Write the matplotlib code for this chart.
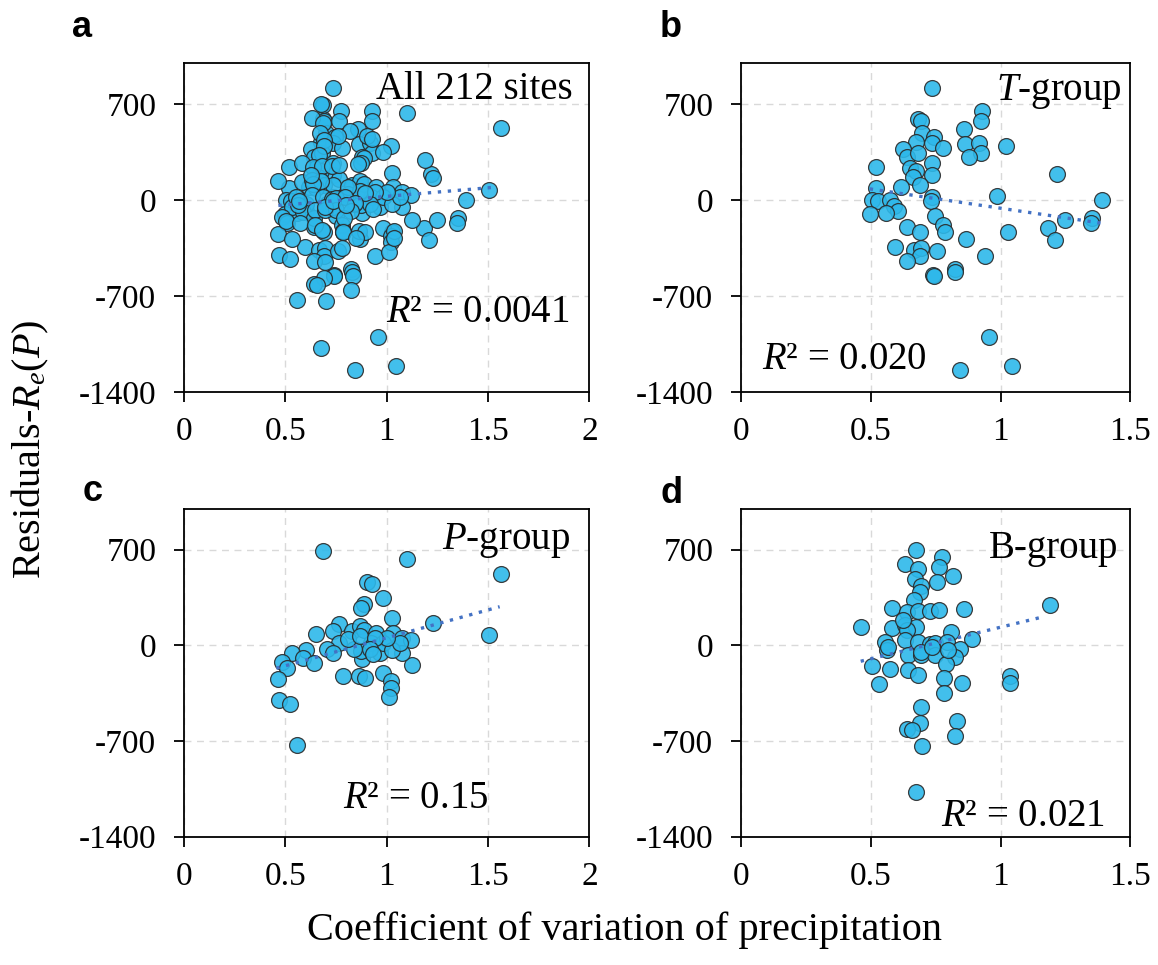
import numpy as np
import matplotlib.pyplot as plt

plt.rcParams['font.family'] = ['Liberation Serif', 'DejaVu Serif']
plt.rcParams['mathtext.fontset'] = 'custom'
plt.rcParams['mathtext.rm'] = 'Liberation Serif'
plt.rcParams['mathtext.it'] = 'Liberation Serif:italic'

# T-group (panel b)
t_cv = [0.737, 0.929, 0.926, 0.683, 0.692, 0.698, 0.744, 0.676, 0.734, 0.779,
        0.860, 0.862, 0.917, 0.926, 0.878, 1.023, 0.625, 0.641, 0.680, 0.734,
        0.734, 0.650, 0.675, 0.663, 0.689, 0.519, 0.519, 0.618, 1.216, 0.988,
        1.392, 0.734, 0.731, 0.503, 0.528, 0.573, 0.590, 0.603, 0.496, 0.558,
        0.747, 0.779, 0.785, 0.639, 0.689, 0.866, 1.027, 1.184, 1.210, 1.248,
        1.351, 1.349, 0.595, 0.667, 0.695, 0.691, 0.640, 0.757, 0.940, 0.740,
        0.742, 0.824, 0.826, 0.955, 0.843, 1.046]
t_res = [814, 649, 578, 590, 576, 491, 455, 425, 418, 377,
         515, 406, 413, 340, 316, 389, 369, 316, 340, 267,
         182, 231, 207, 170, 109, 243, 85, 92, 190, 29,
         0, 24, -12, 0, -12, 0, -44, -78, -102, -97,
         -117, -182, -231, -199, -238, -284, -231, -207, -292, -146,
         -134, -170, -345, -369, -352, -408, -445, -372, -406, -547,
         -554, -506, -523, -1004, -1240, -1210]

# P-group (panel c)
p_cv = [0.686, 1.099, 1.565, 1.502, 1.229, 0.904, 0.929, 0.979, 0.888, 0.874,
        1.024, 0.766, 0.650, 0.736, 0.829, 0.866, 0.888, 0.949, 1.032, 1.077,
        1.121, 0.763, 0.704, 0.733, 0.600, 0.533, 0.588, 0.641, 0.483, 0.508,
        0.463, 0.467, 0.522, 0.558, 0.783, 0.861, 0.894, 0.983, 1.019, 1.021,
        1.012, 1.124, 1.074, 0.966, 0.880, 0.874, 0.840, 0.924, 0.983, 1.024,
        1.066, 0.808, 0.866, 0.999, 0.941, 0.916, 0.933]
p_res = [693, 632, 523, 75, 160, 464, 445, 348, 304, 270,
         197, 153, 85, 105, 105, 141, 112, 92, 92, 56,
         36, 15, -29, -53, -34, -53, -90, -131, -126, -168,
         -248, -399, -433, -729, -228, -228, -236, -204, -265, -309,
         -382, -146, -53, -53, -97, -41, -29, 19, 19, -34,
         19, 44, 68, 56, 56, -29, -66]

# B-group (panel d)
b_cv = [0.676, 0.775, 0.762, 0.631, 0.683, 0.670, 0.817, 0.757, 0.692, 0.690,
        0.666, 0.580, 0.638, 0.680, 0.728, 0.762, 0.860, 1.190, 0.461, 0.580,
        0.631, 0.676, 0.638, 0.811, 0.891, 0.554, 0.564, 0.631, 0.683, 0.728,
        0.747, 0.792, 0.843, 0.644, 0.695, 0.749, 0.824, 0.788, 0.503, 0.573,
        0.644, 0.680, 0.783, 0.531, 0.850, 0.781, 1.036, 1.037, 0.695, 0.689,
        0.641, 0.657, 0.834, 0.824, 0.699, 0.676, 0.625, 0.567, 0.695, 0.734,
        0.798]
b_res = [697, 649, 576, 595, 559, 486, 505, 462, 437, 389,
         328, 272, 243, 250, 250, 255, 262, 292, 134, 129,
         146, 134, 114, 97, 49, 24, -36, 36, 24, 7,
         17, 24, -24, -73, -73, -73, -85, -134, -153, -170,
         -182, -219, -236, -284, -275, -352, -226, -275, -450, -571,
         -615, -620, -554, -661, -736, -1077, 182, -12, -49, -12,
         -36]

# linear trend lines as shown (start/end x and y)
trend_a = ([0.465, 1.543], [-41, 93])
trend_b = ([0.496, 1.389], [80, -170])
trend_c = ([0.455, 1.557], [-168, 282])
trend_d = ([0.461, 1.171], [-117, 211])

panels = [
    ('a', t_cv + p_cv + b_cv, t_res + p_res + b_res, trend_a, 'All 212 sites', '$R$² = 0.0041', 2),
    ('b', t_cv, t_res, trend_b, '$T$-group', '$R$² = 0.020', 1.5),
    ('c', p_cv, p_res, trend_c, '$P$-group', '$R$² = 0.15', 2),
    ('d', b_cv, b_res, trend_d, 'B-group', '$R$² = 0.021', 1.5),
]

# label / R2 positions in axes fraction
name_pos = [(0.958, 0.918), (0.979, 0.912), (0.953, 0.902), (0.969, 0.878)]
r2_pos = [(0.95, 0.24, 'right'), (0.054, 0.097, 'left'), (0.571, 0.116, 'center'), (0.936, 0.06, 'right')]
rects = [[0.159, 0.594, 0.350, 0.341], [0.640, 0.594, 0.336, 0.341],
         [0.159, 0.133, 0.350, 0.340], [0.640, 0.133, 0.336, 0.340]]
letter_xy = [(72, 37), (660, 37), (83, 501), (660, 503)]

fig = plt.figure(figsize=(11.58, 9.65), dpi=100)

for i, (lab, x, y, tr, name, r2, xmax) in enumerate(panels):
    ax = fig.add_axes(rects[i])
    ax.scatter(x, y, s=130, facecolor='#2DB8EA', edgecolor='#2a2a2a',
               linewidth=0.9, alpha=0.9, zorder=3)
    ax.plot(tr[0], tr[1], linestyle=(0, (1, 2)), color='#4472C4', linewidth=2.4, zorder=4)

    ax.set_xlim(0, xmax)
    ax.set_ylim(-1400, 1000)
    xt = np.arange(0, xmax + 0.01, 0.5)
    ax.set_xticks(xt)
    ax.set_xticklabels(['%g' % v for v in xt])
    ax.set_yticks([-1400, -700, 0, 700])
    ax.set_yticklabels(['-1400', '-700', '0', '700'])
    ax.grid(True, linestyle=(0, (5, 4)), color='#d9d9d9', linewidth=1.0, zorder=0)
    ax.tick_params(labelsize=24, length=7, width=1.3, direction='out')
    ax.tick_params(axis='x', pad=11)
    ax.tick_params(axis='y', pad=13)
    for s in ax.spines.values():
        s.set_linewidth(1.3)

    ax.text(name_pos[i][0], name_pos[i][1], name, transform=ax.transAxes,
            ha='right', va='center', fontsize=28, zorder=5)
    ax.text(r2_pos[i][0], r2_pos[i][1], r2, transform=ax.transAxes,
            ha=r2_pos[i][2], va='center', fontsize=28, zorder=5)
    fig.text(letter_xy[i][0] / 1158, 1 - letter_xy[i][1] / 965, lab, fontsize=26,
             fontweight='bold', family='Liberation Sans', ha='left', va='baseline')

fig.text(0.026, 0.534, 'Residuals-$R_e(P)$', rotation=90, fontsize=29, ha='center', va='center')
fig.text(0.539, 0.036, 'Coefficient of variation of precipitation', fontsize=29, ha='center', va='center')

plt.savefig('out.png', dpi=100)
